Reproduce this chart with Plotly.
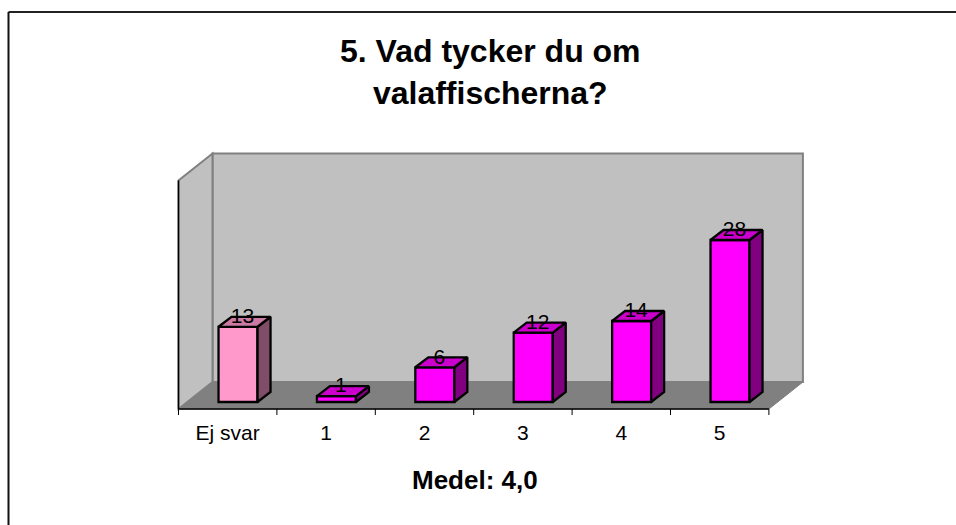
import plotly.graph_objects as go

categories = ["Ej svar", "1", "2", "3", "4", "5"]
values = [13, 1, 6, 12, 14, 28]
front_colors = ["#FF99CC", "#FF00FF", "#FF00FF", "#FF00FF", "#FF00FF", "#FF00FF"]
top_colors = ["#CC7AA3", "#CC00CC", "#CC00CC", "#CC00CC", "#CC00CC", "#CC00CC"]
side_colors = ["#804D66", "#800080", "#800080", "#800080", "#800080", "#800080"]
title_lines = "<b>5. Vad tycker du om<br>valaffischerna?</b>"
x_title = "<b>Medel: 4,0</b>"

W, H = 956, 525
X0, Y0 = 178.5, 409.0       # pixel of the front-left floor corner
UX, UY = 98.4, 5.786        # pixels per category, pixels per value unit
DX, DY = 34 / UX, 27 / UY   # full depth of the box, in data units
BAR_W = 39 / UX
BAR_SHIFT = 0.605
BAR_BASE = 7 / UY
BX, BY = 13 / UX, 10 / UY   # depth of one bar
TOP_VALUE = 39.5            # wall height
EDGE = 2.3

n = len(categories)
FONT = "Liberation Sans, Arial, sans-serif"
fig = go.Figure()

# front faces
fig.add_trace(go.Bar(
    x=[i + BAR_SHIFT for i in range(n)], y=values, base=BAR_BASE, width=BAR_W,
    marker=dict(color=front_colors, line=dict(color="black", width=EDGE)),
    hoverinfo="skip", showlegend=False))

# side and top faces
for i, v in enumerate(values):
    l = i + BAR_SHIFT - BAR_W / 2
    r = i + BAR_SHIFT + BAR_W / 2
    b = BAR_BASE
    t = BAR_BASE + v
    fig.add_trace(go.Scatter(
        x=[r, r + BX, r + BX, r, r], y=[b, b + BY, t + BY, t, b],
        mode="lines", fill="toself", fillcolor=side_colors[i],
        line=dict(color="black", width=EDGE), hoverinfo="skip", showlegend=False))
    fig.add_trace(go.Scatter(
        x=[l, r, r + BX, l + BX, l], y=[t, t, t + BY, t + BY, t],
        mode="lines", fill="toself", fillcolor=top_colors[i],
        line=dict(color="black", width=EDGE), hoverinfo="skip", showlegend=False))

# value labels
fig.add_trace(go.Scatter(
    x=[i + BAR_SHIFT + 4.5 / UX for i in range(n)],
    y=[BAR_BASE + v + 9 / UY for v in values],
    text=[str(v) for v in values], mode="text", textposition="middle center",
    textfont=dict(family=FONT, size=21, color="black"),
    hoverinfo="skip", showlegend=False))

# category axis: line, ticks, labels
fig.add_trace(go.Scatter(
    x=[0, n], y=[0, 0], mode="lines", line=dict(color="black", width=1.5),
    hoverinfo="skip", showlegend=False))
for i in range(n + 1):
    fig.add_trace(go.Scatter(
        x=[i, i], y=[0, -6 / UY], mode="lines", line=dict(color="black", width=1),
        hoverinfo="skip", showlegend=False))
fig.add_trace(go.Scatter(
    x=[i + 0.5 for i in range(n)], y=[-26 / UY] * n, text=categories,
    mode="text", textposition="middle center",
    textfont=dict(family=FONT, size=21, color="black"),
    hoverinfo="skip", showlegend=False))

shapes = [
    # floor, back wall, side wall
    dict(type="path", layer="below", xref="x", yref="y", fillcolor="#808080",
         line=dict(color="#808080", width=1),
         path=f"M0,0 L{n},0 L{n+DX},{DY} L{DX},{DY} Z"),
    dict(type="path", layer="below", xref="x", yref="y", fillcolor="#C0C0C0",
         line=dict(color="#808080", width=2),
         path=f"M{DX},{DY} L{n+DX},{DY} L{n+DX},{TOP_VALUE+DY} L{DX},{TOP_VALUE+DY} Z"),
    dict(type="path", layer="below", xref="x", yref="y", fillcolor="#C0C0C0",
         line=dict(color="#808080", width=2),
         path=f"M0,0 L{DX},{DY} L{DX},{TOP_VALUE+DY} L0,{TOP_VALUE} Z"),
    dict(type="line", layer="below", xref="x", yref="y", x0=0, x1=0, y0=0, y1=TOP_VALUE,
         line=dict(color="black", width=1.5)),
    # chart-area border, open to the right and bottom
    dict(type="line", xref="paper", yref="paper", x0=8.5 / W, x1=1,
         y0=1 - 12 / H, y1=1 - 12 / H, line=dict(color="#222222", width=2)),
    dict(type="line", xref="paper", yref="paper", x0=8.5 / W, x1=8.5 / W,
         y0=0, y1=1 - 12 / H, line=dict(color="#111111", width=2)),
]

annotations = [
    dict(text=title_lines, xref="paper", yref="paper", x=490 / W, y=1 - 72 / H,
         showarrow=False, xanchor="center", yanchor="middle",
         font=dict(family=FONT, size=32, color="black"), align="center"),
    dict(text=x_title, xref="paper", yref="paper", x=475 / W, y=1 - 480 / H,
         showarrow=False, xanchor="center", yanchor="middle",
         font=dict(family=FONT, size=26, color="black")),
]

fig.update_layout(
    width=W, height=H, margin=dict(l=0, r=0, t=0, b=0, pad=0, autoexpand=False),
    paper_bgcolor="white", plot_bgcolor="white", showlegend=False, barmode="overlay",
    shapes=shapes, annotations=annotations,
    xaxis=dict(visible=False, range=[-X0 / UX, (W - X0) / UX], fixedrange=True),
    yaxis=dict(visible=False, range=[(Y0 - H) / UY, Y0 / UY], fixedrange=True),
)
fig.write_html("out.html", config={"displayModeBar": False, "responsive": False},
               post_script="document.body.style.margin='0';document.body.style.overflow='hidden';")
